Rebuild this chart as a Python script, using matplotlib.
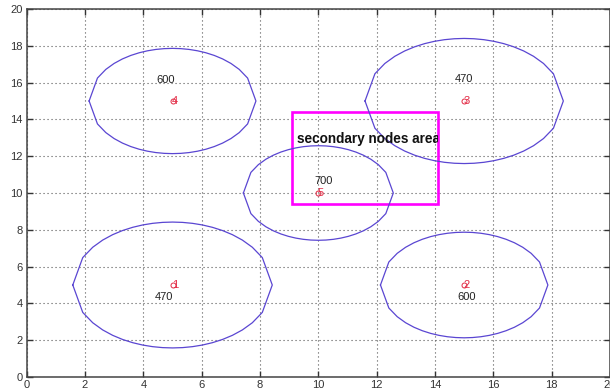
import numpy as np
import matplotlib
matplotlib.use("Agg")
import matplotlib.pyplot as plt
from matplotlib.patches import Rectangle

plt.rcParams['font.family'] = ['Liberation Sans', 'DejaVu Sans']

# Node layout: id, centre coordinates, residual energy and coverage radius
node_ids = [1, 2, 3, 4, 5]
node_x = [5, 15, 15, 5, 10]
node_y = [5, 5, 15, 15, 10]
node_energy = [470, 600, 470, 600, 700]
node_radius = [3.42, 2.87, 3.40, 2.86, 2.57]

# where each energy label sits relative to its node
label_dx = [-0.60, -0.25, -0.34, -0.56, -0.14]
label_dy = [-0.63, -0.65, 1.17, 1.15, 0.65]

# secondary nodes area (lower-left corner, width, height)
area_x, area_y, area_w, area_h = 9.1, 9.4, 5.0, 5.0
area_title = "secondary nodes area"

ticks = list(range(0, 21, 2))

fig = plt.figure(figsize=(6.10, 3.91), dpi=100)
ax = fig.add_axes([26.7 / 610, 14 / 391, (610 - 26.7) / 610, 368 / 391])
ax.set_xlim(0, 20)
ax.set_ylim(0, 20)
ax.set_xticks(ticks)
ax.set_yticks(ticks)
ax.tick_params(direction='in', length=4, width=1.0, top=True, right=True,
               labelsize=8, colors='#333333', pad=3)
ax.tick_params(axis='x', pad=2.5)
for s in ax.spines.values():
    s.set_color('#444444')
    s.set_linewidth(1.1)
ax.grid(True, color='#555555', linestyle=(0, (1, 2.6)), linewidth=0.8)
ax.set_axisbelow(True)

blue = '#5a46d2'
red = '#e32b45'

for nid, cx, cy, r, e, dx, dy in zip(node_ids, node_x, node_y, node_radius,
                                     node_energy, label_dx, label_dy):
    t = np.linspace(-1, 1, 21)
    xs = cx + r * t
    h = r * np.sqrt(np.clip(1 - t ** 2, 0, None))
    ax.plot(np.concatenate([xs, xs[::-1]]),
            np.concatenate([cy + h, (cy - h)[::-1]]),
            color=blue, linewidth=0.9)
    ax.plot(cx, cy, 'o', markersize=3.6, markerfacecolor='none',
            markeredgecolor=red, markeredgewidth=0.7)
    ax.text(cx - 0.02, cy, str(nid), color=red, fontsize=8, ha='left',
            va='center')
    ax.text(cx + dx, cy + dy, str(e), color='#222222', fontsize=8,
            ha='left', va='center')

rect = Rectangle((area_x, area_y), area_w, area_h, fill=False,
                 edgecolor='#ff00ff', linewidth=1.9)
ax.add_patch(rect)
title = ax.text(area_x + 0.17, area_y + 3.56, area_title, fontsize=9.8,
                fontweight='bold', color='#111111', ha='left', va='center',
                clip_on=True)
title.set_clip_path(rect)

fig.savefig("out.png", dpi=100, facecolor='white')
